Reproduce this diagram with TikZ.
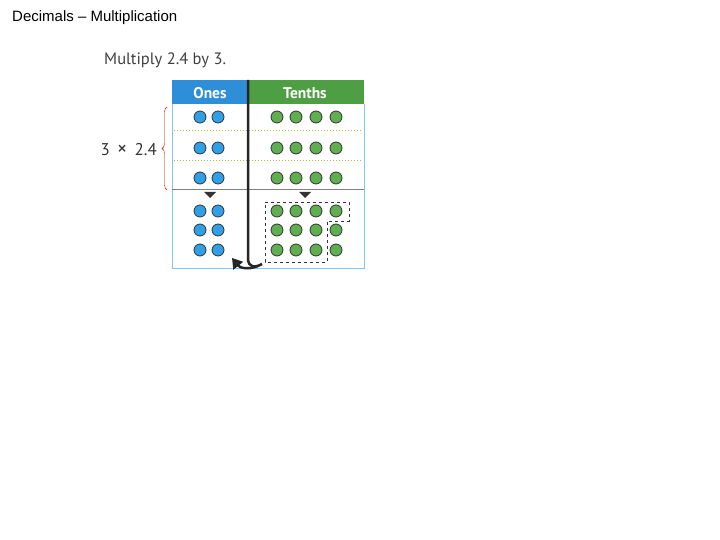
\documentclass[tikz,border=0pt]{standalone}
\usepackage{fontspec}
\setmainfont{Liberation Sans}
\newfontfamily\gill{PT Sans}
\usetikzlibrary{decorations.pathreplacing,arrows.meta}
\definecolor{hblue}{HTML}{2E8FD8}
\definecolor{hgreen}{HTML}{4E9E44}
\definecolor{cblue}{HTML}{2FA0E8}
\definecolor{cgreen}{HTML}{5FAE50}
\definecolor{gline}{HTML}{A8C040}
\begin{document}
\begin{tikzpicture}[x=1pt,y=-1pt,
  bdot/.style={circle,draw=black!80,fill=cblue,minimum size=12pt,inner sep=0pt,line width=0.8pt},
  gdot/.style={circle,draw=black!80,fill=cgreen,minimum size=12pt,inner sep=0pt,line width=0.8pt},
  hdr/.style={text=white,font=\gill\bfseries\fontsize{15.5}{17}\selectfont}]
\useasboundingbox (0,0) rectangle (720,540);
\node[anchor=west,font=\fontsize{15}{17}\selectfont,inner sep=0pt] (title) at (12,18) {Decimals -- Multiplication};
\node[anchor=west,text=black!75,font=\gill\fontsize{16.5}{18}\selectfont,inner sep=0pt] (q) at (104,60) {Multiply 2.4 by 3.};
% headers
\fill[hblue] (172,80) rectangle (248,104);
\fill[hgreen] (248,80) rectangle (364,104);
\node[hdr] (ones) at (210,93) {Ones};
\node[hdr] (tenths) at (305,93) {Tenths};
% table lines
\draw[cblue!60,line width=0.8pt] (172,104) -- (172,268) -- (364,268) -- (364,104);
\draw[black!50] (172,189) -- (364,189);
\draw[gline,dotted,line width=1pt] (174,131) -- (362,131) (174,161) -- (362,161);
% dots
\foreach \y/\i in {117/1,148/2,178/3,211/4,230/5,250/6}{
  \node[bdot] (b\i a) at (200,\y) {};
  \node[bdot] (b\i b) at (218,\y) {};
  \foreach \x/\j in {277/a,296/b,316/c,336/d}{\node[gdot] (g\i\j) at (\x,\y) {};}
}
% small arrows
\fill[black!80] (204,192) -- (216,192) -- (210,198) -- cycle;
\fill[black!80] (299,192) -- (311,192) -- (305,198) -- cycle;
% dashed group
\draw[dashed,black!80,line width=0.8pt] (265,202) -- (349,202) -- (349,221) -- (327,221) -- (327,262) -- (265,262) -- cycle;
% brace
\draw[red!75!black,decorate,decoration={brace,amplitude=5pt}] (167,190) -- (167,107);
\node[anchor=east,font=\gill\fontsize{17}{19}\selectfont,text=black!80,inner sep=0pt] (lab) at (157,150) {3 \,{\fontsize{20}{20}\selectfont×}\, 2.4};
% divider and curved arrow
\draw[black!85,line width=2.5pt] (248,80) -- (248,258) .. controls (248,268) and (255,268) .. (262,264);
\draw[black!85,line width=2.5pt,-{Triangle[length=10pt,width=12pt]}] (258,266) .. controls (248,270) and (240,268) .. (232,258);
\end{tikzpicture}
\end{document}
